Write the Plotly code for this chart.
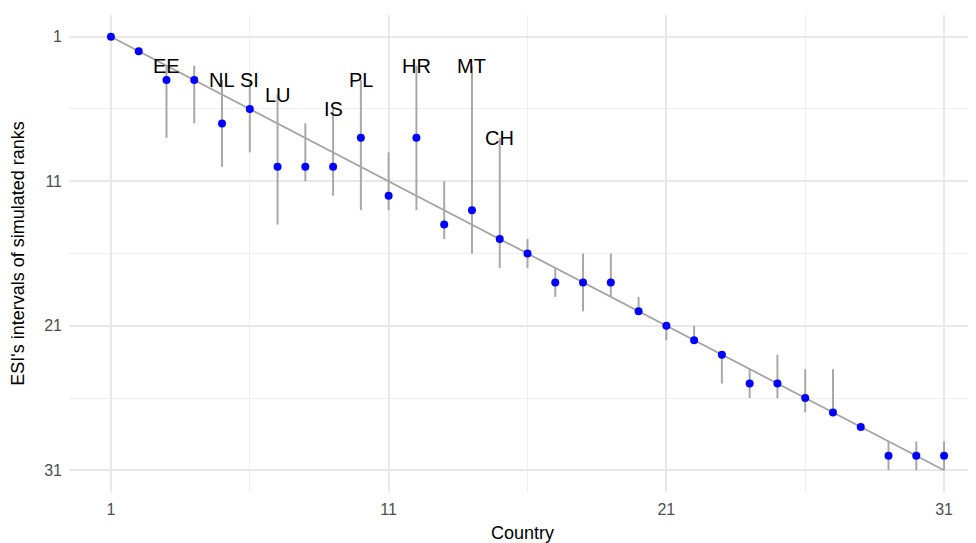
import plotly.graph_objects as go

# ---- data ----
country = list(range(1, 32))
rank = [1, 2, 4, 4, 7, 6, 10, 10, 10, 8, 12, 8, 14, 13, 15, 16, 18, 18, 18, 20,
        21, 22, 23, 25, 25, 26, 27, 28, 30, 30, 30]
rank_lo = [1, 2, 3, 3, 4, 4, 5, 7, 6, 4, 9, 3, 11, 3, 8, 15, 17, 16, 16, 19,
           21, 21, 23, 24, 23, 24, 24, 28, 29, 29, 29]
rank_hi = [1, 2, 8, 7, 10, 9, 14, 11, 12, 13, 13, 13, 15, 16, 17, 17, 19, 20, 19, 20,
           22, 22, 25, 26, 26, 27, 27, 28, 31, 31, 31]
labels = ["", "", "EE", "", "NL", "SI", "LU", "", "IS", "PL", "", "HR", "", "MT", "CH",
          "", "", "", "", "", "", "", "", "", "", "", "", "", "", "", ""]
tick_vals = [1, 11, 21, 31]

FONT = "Liberation Sans, Arial, sans-serif"

fig = go.Figure()

# identity line
fig.add_trace(go.Scatter(
    x=[country[0], country[-1]], y=[country[0], country[-1]],
    mode="lines", line=dict(color="#a3a3a3", width=1.8),
    hoverinfo="skip", showlegend=False))

# points with interval bars
fig.add_trace(go.Scatter(
    x=country, y=rank, mode="markers",
    marker=dict(color="#0000ff", size=8),
    error_y=dict(type="data", symmetric=False,
                 array=[h - r for h, r in zip(rank_hi, rank)],
                 arrayminus=[r - l for r, l in zip(rank, rank_lo)],
                 color="#a8a8a8", thickness=2, width=0),
    showlegend=False))

for c, lo, lab in zip(country, rank_lo, labels):
    if lab:
        fig.add_annotation(x=c, y=lo, text=lab, showarrow=False,
                           font=dict(family=FONT, size=20, color="black"))

axis_common = dict(
    tickvals=tick_vals, ticktext=[str(v) for v in tick_vals],
    showgrid=True, gridcolor="#e8e8e8", gridwidth=1.6,
    zeroline=False, showline=False, ticks="", automargin=False,
    tickfont=dict(family=FONT, size=16, color="#4d4d4d"),
    minor=dict(tick0=1, dtick=5, showgrid=True, gridcolor="#eeeeee", gridwidth=1),
)

# the page places the figure 8px from the top-left corner of the window
fig.update_layout(
    width=968, height=535,
    margin=dict(l=61, r=0, t=7, b=51),
    paper_bgcolor="white", plot_bgcolor="white",
    font=dict(family=FONT),
    xaxis=dict(range=[-0.51, 32.15],
               title=dict(text="Country", font=dict(family=FONT, size=18, color="black"),
                          standoff=11),
               ticklabelstandoff=6,
               **axis_common),
    yaxis=dict(range=[32.5, -0.5],
               title=dict(text="ESI's intervals of simulated ranks",
                          font=dict(family=FONT, size=18, color="black"), standoff=22),
               ticklabelstandoff=6,
               **axis_common),
)

fig.write_html("out.html")
